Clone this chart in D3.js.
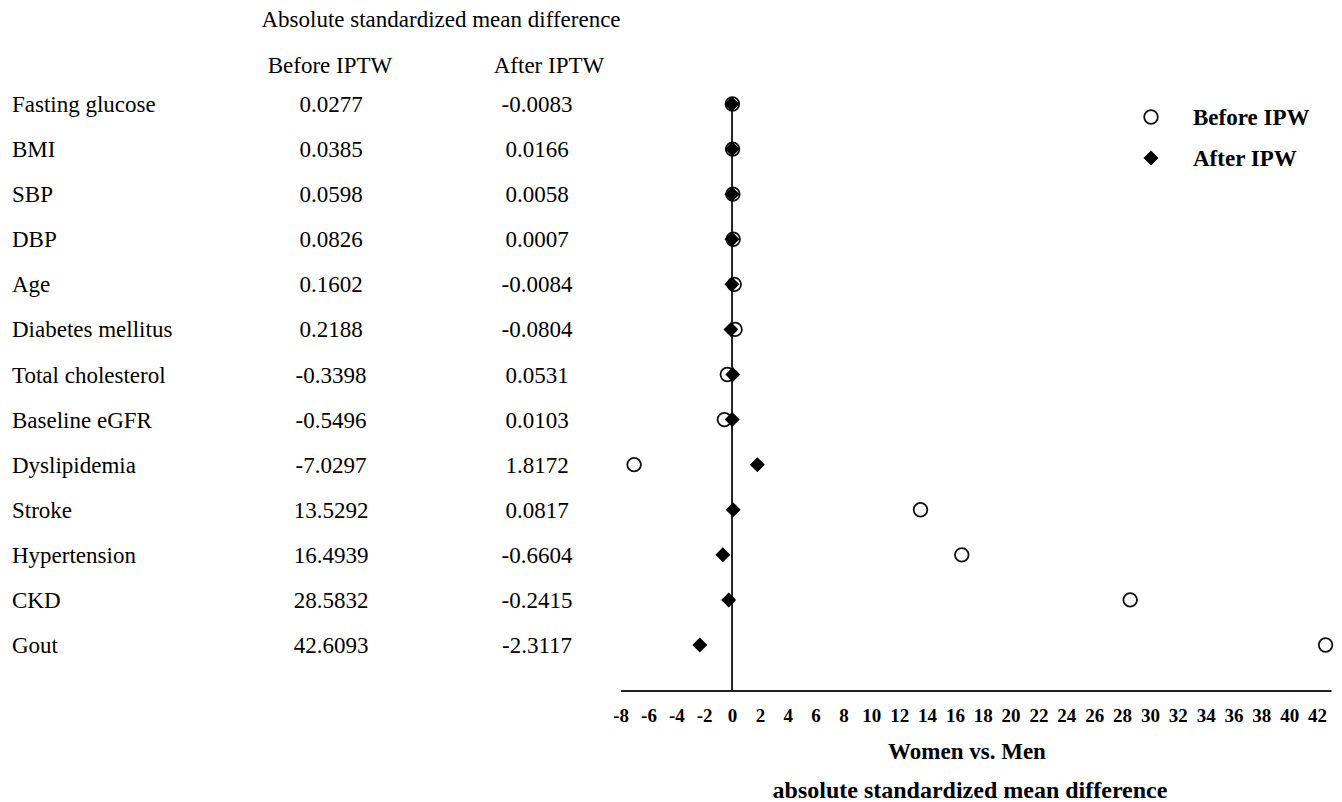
<!DOCTYPE html>
<html>
<head>
<meta charset="utf-8">
<script src="https://cdn.jsdelivr.net/npm/d3@7"></script>
<style>
	body { margin: 0; background: #fff; }
	text { font-family: "Liberation Serif", "Times New Roman", serif; fill: #000; }
</style>
</head>
<body>
<div class="container"></div>
<script>
	var variables = ["Fasting glucose", "BMI", "SBP", "DBP", "Age", "Diabetes mellitus", "Total cholesterol",
		"Baseline eGFR", "Dyslipidemia", "Stroke", "Hypertension", "CKD", "Gout"];
	var beforeLabels = ["0.0277", "0.0385", "0.0598", "0.0826", "0.1602", "0.2188", "-0.3398",
		"-0.5496", "-7.0297", "13.5292", "16.4939", "28.5832", "42.6093"];
	var afterLabels = ["-0.0083", "0.0166", "0.0058", "0.0007", "-0.0084", "-0.0804", "0.0531",
		"0.0103", "1.8172", "0.0817", "-0.6604", "-0.2415", "-2.3117"];
	var beforeValues = beforeLabels.map(Number);
	var afterValues = afterLabels.map(Number);
	var tickValues = d3.range(-8, 43, 2);

	var width = 1342, height = 802;
	var svg = d3.select(".container").append("svg")
		.attr("width", width)
		.attr("height", height);

	var x = d3.scaleLinear().domain([-8, 43]).range([620.6, 1331]);
	var y = d3.scalePoint().domain(variables).range([104, 645]);
	var axisY = 690.5;

	// table headers
	svg.append("text")
		.attr("x", 441).attr("y", 19)
		.attr("dy", "0.35em")
		.attr("text-anchor", "middle")
		.style("font-size", "23px")
		.text("Absolute standardized mean difference");
	svg.append("text")
		.attr("x", 330).attr("y", 65).attr("dy", "0.35em")
		.attr("text-anchor", "middle")
		.style("font-size", "23px")
		.text("Before IPTW");
	svg.append("text")
		.attr("x", 549).attr("y", 65).attr("dy", "0.35em")
		.attr("text-anchor", "middle")
		.style("font-size", "23px")
		.text("After IPTW");

	var rows = svg.selectAll("g.row")
		.data(variables)
		.enter().append("g")
		.attr("class", "row");

	rows.append("text")
		.attr("x", 12)
		.attr("y", function(d) { return y(d); })
		.attr("dy", "0.35em")
		.style("font-size", "23px")
		.text(function(d) { return d; });
	rows.append("text")
		.attr("x", 331)
		.attr("y", function(d) { return y(d); })
		.attr("dy", "0.35em")
		.attr("text-anchor", "middle")
		.style("font-size", "23px")
		.text(function(d, i) { return beforeLabels[i]; });
	rows.append("text")
		.attr("x", 537)
		.attr("y", function(d) { return y(d); })
		.attr("dy", "0.35em")
		.attr("text-anchor", "middle")
		.style("font-size", "23px")
		.text(function(d, i) { return afterLabels[i]; });

	// zero line
	svg.append("line")
		.attr("x1", x(0)).attr("x2", x(0))
		.attr("y1", y(variables[0])).attr("y2", axisY)
		.style("stroke", "#222")
		.style("stroke-width", 2);

	// x axis
	var axis = d3.axisBottom(x)
		.tickValues(tickValues)
		.tickFormat(function(d) { return String(d); })
		.tickSize(0)
		.tickPadding(18)
		.tickSizeOuter(0);
	var gAxis = svg.append("g")
		.attr("transform", "translate(0," + axisY + ")")
		.call(axis);
	gAxis.select(".domain").style("stroke", "#222").style("stroke-width", 2);
	gAxis.selectAll("text")
		.style("font-family", "'Liberation Serif', 'Times New Roman', serif")
		.style("font-size", "19px")
		.style("font-weight", "bold")
		.style("fill", "#000");

	svg.append("text")
		.attr("x", 967).attr("y", 751).attr("dy", "0.35em")
		.attr("text-anchor", "middle")
		.style("font-size", "23px")
		.style("font-weight", "bold")
		.text("Women vs. Men");
	svg.append("text")
		.attr("x", 970).attr("y", 790).attr("dy", "0.35em")
		.attr("text-anchor", "middle")
		.style("font-size", "24px")
		.style("font-weight", "bold")
		.text("absolute standardized mean difference");

	var diamond = d3.symbol().type(d3.symbolSquare).size(112);

	// before markers (open circles)
	svg.selectAll("circle.before")
		.data(variables)
		.enter().append("circle")
		.attr("class", "before")
		.attr("cx", function(d, i) { return x(beforeValues[i]); })
		.attr("cy", function(d) { return y(d); })
		.attr("r", 6.8)
		.style("fill", "#fff")
		.style("stroke", "#111")
		.style("stroke-width", 1.8);

	// after markers (filled diamonds)
	svg.selectAll("path.after")
		.data(variables)
		.enter().append("path")
		.attr("class", "after")
		.attr("d", diamond)
		.attr("transform", function(d, i) {
			return "translate(" + x(afterValues[i]) + "," + y(d) + ") rotate(45)";
		})
		.style("fill", "#000");

	// legend
	var legend = svg.append("g");
	legend.append("circle")
		.attr("cx", 1151).attr("cy", 117).attr("r", 6.8)
		.style("fill", "#fff").style("stroke", "#111").style("stroke-width", 1.8);
	legend.append("path")
		.attr("d", diamond)
		.attr("transform", "translate(1151,158) rotate(45)")
		.style("fill", "#000");
	legend.append("text")
		.attr("x", 1193).attr("y", 117).attr("dy", "0.35em")
		.style("font-size", "23px").style("font-weight", "bold")
		.text("Before IPW");
	legend.append("text")
		.attr("x", 1193).attr("y", 158).attr("dy", "0.35em")
		.style("font-size", "23px").style("font-weight", "bold")
		.text("After IPW");
</script>
</body>
</html>
